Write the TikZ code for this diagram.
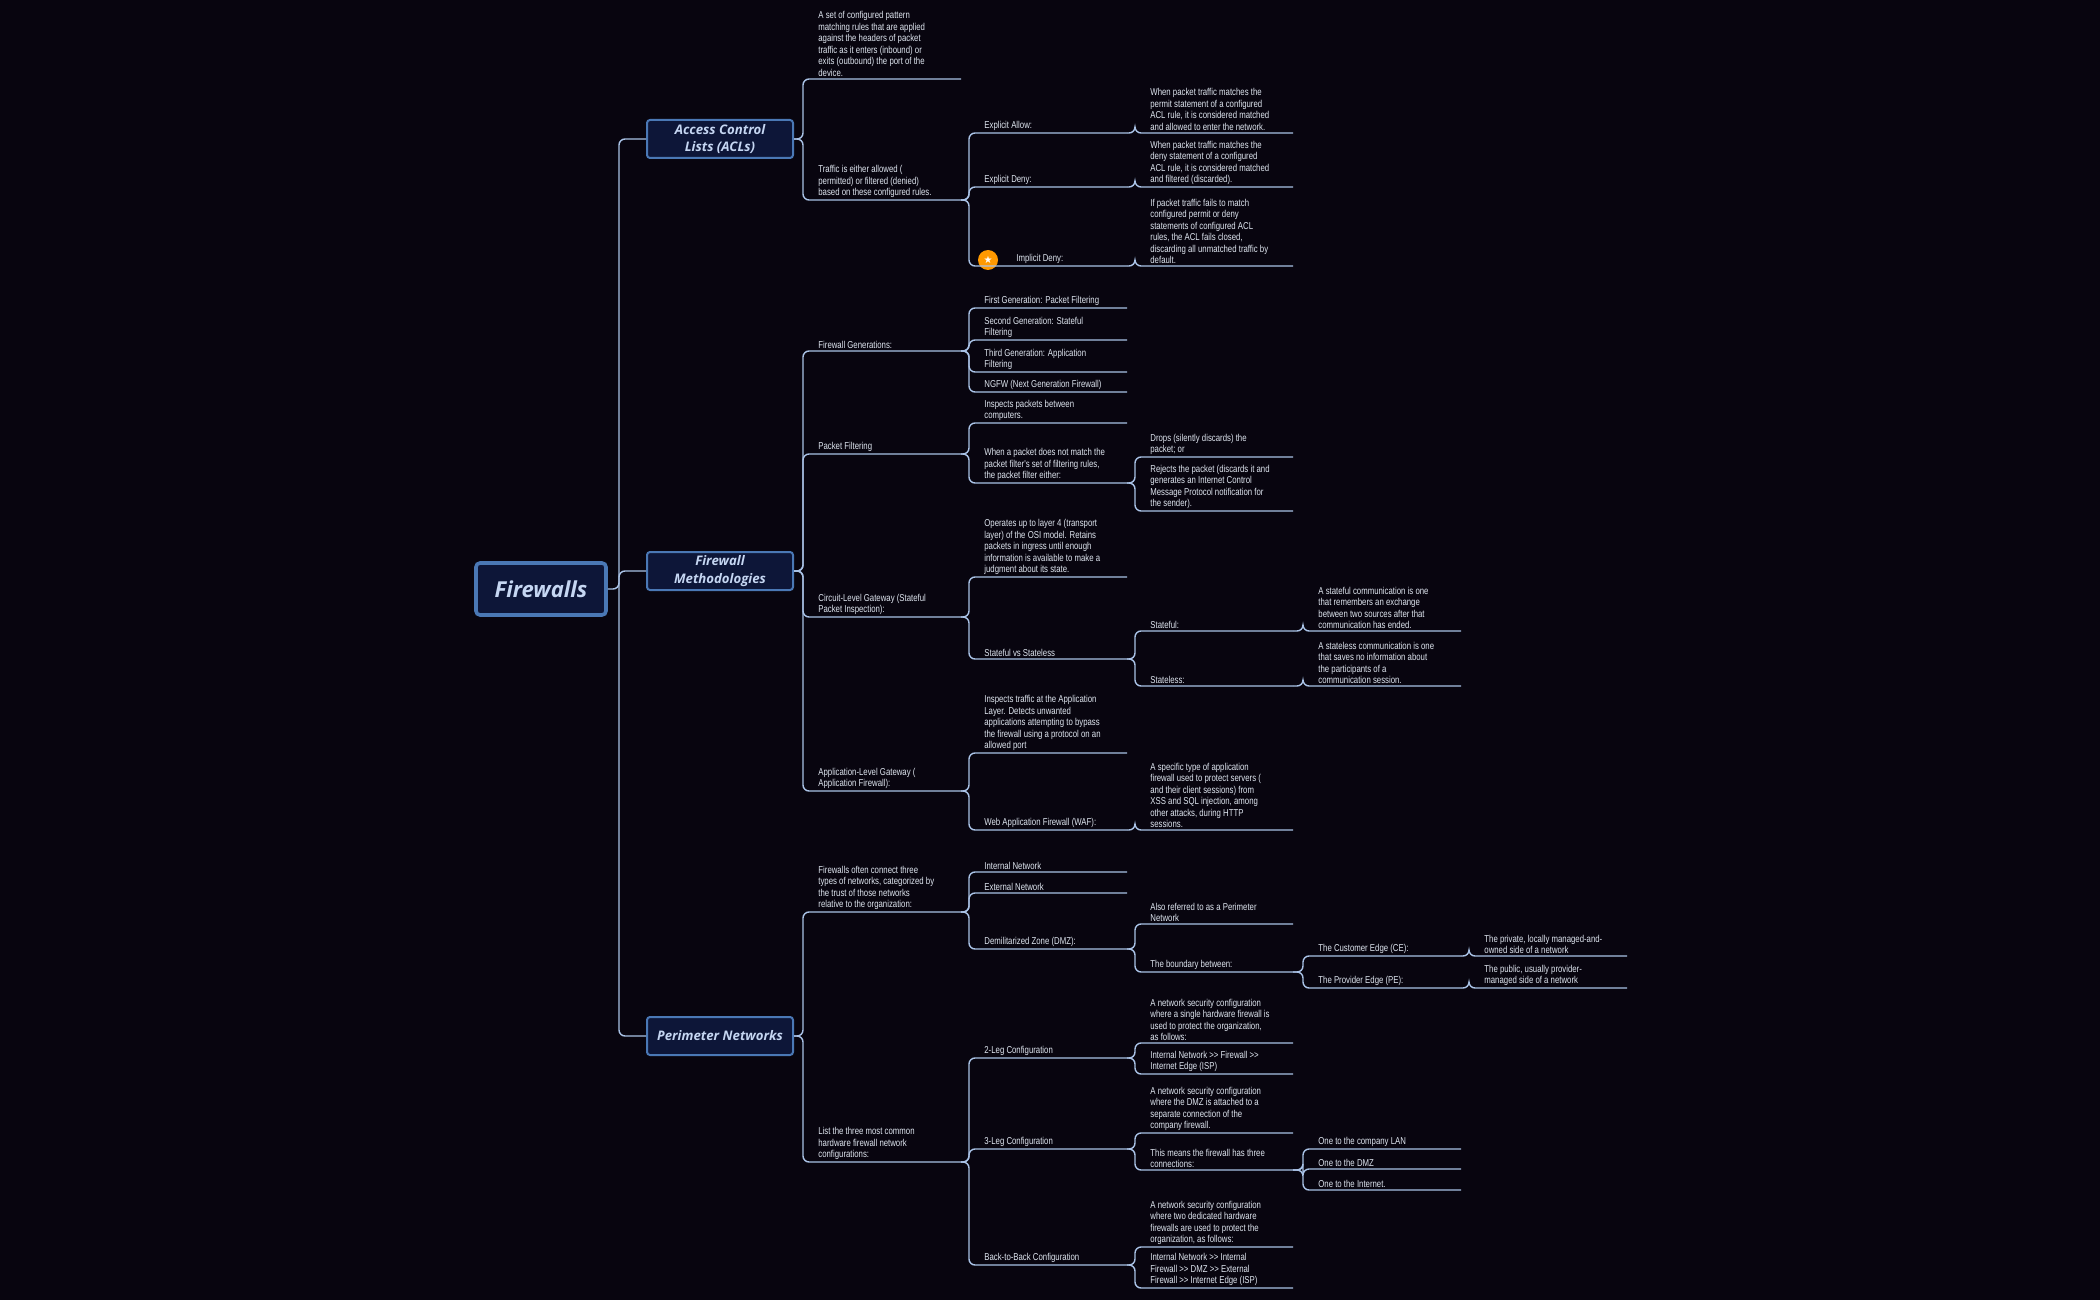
\documentclass[tikz,border=0pt]{standalone}
\usepackage{fontspec}
\setmainfont{Liberation Sans}
\newfontfamily\leaffont[FakeStretch=0.78]{Liberation Sans}
\newfontfamily\boxfont{Open Sans}
\newfontfamily\symfont{DejaVu Sans}
\definecolor{bg}{HTML}{08050F}
\definecolor{ln}{HTML}{A9C2E6}
\definecolor{tx}{HTML}{DFE6F0}
\definecolor{bxfill}{HTML}{0D1638}
\definecolor{bxline}{HTML}{4A78B5}
\definecolor{bxtext}{HTML}{C5D6F2}
\tikzset{
 leaf/.style={inner sep=0pt, align=left, text=tx, font=\leaffont\fontsize{5}{5.75}\selectfont},
 conn/.style={draw=ln, line width=0.7pt, rounded corners=3pt},
 topic/.style={draw=bxline, fill=bxfill, line width=1pt, rounded corners=1.5pt, text=bxtext, align=center, font=\boxfont\bfseries\itshape\fontsize{6.6}{8.6}\selectfont, minimum width=73pt, minimum height=19pt, inner sep=1pt},
 rootbox/.style={draw=bxline, fill=bxfill, line width=1.8pt, rounded corners=2pt, text=bxtext, font=\boxfont\bfseries\itshape\fontsize{11}{13}\selectfont, minimum width=65pt, minimum height=26pt}
}
\newcommand\leaf[4]{%
 \coordinate (#1-l) at (#2,#3); \coordinate (#1-r) at ({#2+158},#3);
 \node[leaf, anchor=south west] (#1) at ({#2+15},{#3-2}) {#4};}
\newcommand\link[2]{\draw[conn] (#1-r) -- (#2-l |- #1-r) -- (#2-l) -- (#2-r);}
\begin{document}
\begin{tikzpicture}[x=0.5pt,y=-0.5pt]
\fill[bg] (0,0) rectangle (2100,1300);
\useasboundingbox (0,0) rectangle (2100,1300);
% root and topics
\node[rootbox] (root) at (541,589) {Firewalls};
\node[topic] (acl) at (720,139) {Access Control\\Lists (ACLs)};
\node[topic] (meth) at (720,571) {Firewall\\Methodologies};
\node[topic] (peri) at (720,1036) {Perimeter Networks};
\coordinate (trunk) at (619,589);
\draw[conn] (root.east) -- (trunk) |- (acl.west);
\draw[conn] (trunk) |- (meth.west);
\draw[conn] (trunk) |- (peri.west);
\coordinate (acl-r) at (acl.east);
\coordinate (meth-r) at (meth.east);
\coordinate (peri-r) at (peri.east);
% ACL
\leaf{a1}{803}{79}{A set of configured pattern\\matching rules that are applied\\against the headers of packet\\traffic as it enters (inbound) or\\exits (outbound) the port of the\\device.}
\leaf{a2}{803}{200}{Traffic is either allowed (\\permitted) or filtered (denied)\\based on these configured rules.}
\link{acl}{a1}\link{acl}{a2}
\leaf{ea}{969}{133}{Explicit Allow:}
\leaf{ed}{969}{187}{Explicit Deny:}
\leaf{id}{969}{266}{\hspace{16pt}Implicit Deny:}
\node[circle, fill=orange!80!yellow, inner sep=0pt, minimum size=10pt, text=white, font=\symfont\fontsize{5}{5}\selectfont] (star) at (988,260) {★};
\link{a2}{ea}\link{a2}{ed}\link{a2}{id}
\leaf{ea1}{1135}{133}{When packet traffic matches the\\permit statement of a configured\\ACL rule, it is considered matched\\and allowed to enter the network.}
\leaf{ed1}{1135}{187}{When packet traffic matches the\\deny statement of a configured\\ACL rule, it is considered matched\\and filtered (discarded).}
\leaf{id1}{1135}{266}{If packet traffic fails to match\\configured permit or deny\\statements of configured ACL\\rules, the ACL fails closed,\\discarding all unmatched traffic by\\default.}
\link{ea}{ea1}\link{ed}{ed1}\link{id}{id1}
% Methodologies
\leaf{fg}{803}{351}{Firewall Generations:}
\leaf{pf}{803}{454}{Packet Filtering}
\leaf{cl}{803}{617}{Circuit-Level Gateway (Stateful\\Packet Inspection):}
\leaf{al}{803}{791}{Application-Level Gateway (\\Application Firewall):}
\link{meth}{fg}\link{meth}{pf}\link{meth}{cl}\link{meth}{al}
\leaf{g1}{969}{308}{First Generation: Packet Filtering}
\leaf{g2}{969}{340}{Second Generation: Stateful\\Filtering}
\leaf{g3}{969}{372}{Third Generation: Application\\Filtering}
\leaf{g4}{969}{392}{NGFW (Next Generation Firewall)}
\link{fg}{g1}\link{fg}{g2}\link{fg}{g3}\link{fg}{g4}
\leaf{p1}{969}{423}{Inspects packets between\\computers.}
\leaf{p2}{969}{483}{When a packet does not match the\\packet filter's set of filtering rules,\\the packet filter either:}
\link{pf}{p1}\link{pf}{p2}
\leaf{p21}{1135}{457}{Drops (silently discards) the\\packet; or}
\leaf{p22}{1135}{511}{Rejects the packet (discards it and\\generates an Internet Control\\Message Protocol notification for\\the sender).}
\link{p2}{p21}\link{p2}{p22}
\leaf{c1}{969}{577}{Operates up to layer 4 (transport\\layer) of the OSI model. Retains\\packets in ingress until enough\\information is available to make a\\judgment about its state.}
\leaf{c2}{969}{659}{Stateful vs Stateless}
\link{cl}{c1}\link{cl}{c2}
\leaf{sf}{1135}{631}{Stateful:}
\leaf{sl}{1135}{686}{Stateless:}
\link{c2}{sf}\link{c2}{sl}
\leaf{sf1}{1303}{631}{A stateful communication is one\\that remembers an exchange\\between two sources after that\\communication has ended.}
\leaf{sl1}{1303}{686}{A stateless communication is one\\that saves no information about\\the participants of a\\communication session.}
\link{sf}{sf1}\link{sl}{sl1}
\leaf{ap1}{969}{753}{Inspects traffic at the Application\\Layer. Detects unwanted\\applications attempting to bypass\\the firewall using a protocol on an\\allowed port}
\leaf{ap2}{969}{830}{Web Application Firewall (WAF):}
\link{al}{ap1}\link{al}{ap2}
\leaf{ap21}{1135}{830}{A specific type of application\\firewall used to protect servers (\\and their client sessions) from\\XSS and SQL injection, among\\other attacks, during HTTP\\sessions.}
\link{ap2}{ap21}
% Perimeter
\leaf{n0}{803}{912}{Firewalls often connect three\\types of networks, categorized by\\the trust of those networks\\relative to the organization:}
\leaf{h0}{803}{1162}{List the three most common\\hardware firewall network\\configurations:}
\link{peri}{n0}\link{peri}{h0}
\leaf{n1}{969}{872}{Internal Network}
\leaf{n2}{969}{893}{External Network}
\leaf{n3}{969}{949}{Demilitarized Zone (DMZ):}
\link{n0}{n1}\link{n0}{n2}\link{n0}{n3}
\leaf{d1}{1135}{924}{Also referred to as a Perimeter\\Network}
\leaf{d2}{1135}{972}{The boundary between:}
\link{n3}{d1}\link{n3}{d2}
\leaf{ce}{1303}{956}{The Customer Edge (CE):}
\leaf{pe}{1303}{988}{The Provider Edge (PE):}
\link{d2}{ce}\link{d2}{pe}
\leaf{ce1}{1469}{956}{The private, locally managed-and-\\owned side of a network}
\leaf{pe1}{1469}{988}{The public, usually provider-\\managed side of a network}
\link{ce}{ce1}\link{pe}{pe1}
\leaf{l2}{969}{1058}{2-Leg Configuration}
\leaf{l3}{969}{1149}{3-Leg Configuration}
\leaf{bb}{969}{1265}{Back-to-Back Configuration}
\link{h0}{l2}\link{h0}{l3}\link{h0}{bb}
\leaf{l21}{1135}{1043}{A network security configuration\\where a single hardware firewall is\\used to protect the organization,\\as follows:}
\leaf{l22}{1135}{1074}{Internal Network >> Firewall >>\\Internet Edge (ISP)}
\link{l2}{l21}\link{l2}{l22}
\leaf{l31}{1135}{1133}{A network security configuration\\where the DMZ is attached to a\\separate connection of the\\company firewall.}
\leaf{l32}{1135}{1170}{This means the firewall has three\\connections:}
\link{l3}{l31}\link{l3}{l32}
\leaf{o1}{1303}{1149}{One to the company LAN}
\leaf{o2}{1303}{1169}{One to the DMZ}
\leaf{o3}{1303}{1190}{One to the Internet.}
\link{l32}{o1}\link{l32}{o2}\link{l32}{o3}
\leaf{b1}{1135}{1247}{A network security configuration\\where two dedicated hardware\\firewalls are used to protect the\\organization, as follows:}
\leaf{b2}{1135}{1288}{Internal Network >> Internal\\Firewall >> DMZ >> External\\Firewall >> Internet Edge (ISP)}
\link{bb}{b1}\link{bb}{b2}
\end{tikzpicture}
\end{document}
